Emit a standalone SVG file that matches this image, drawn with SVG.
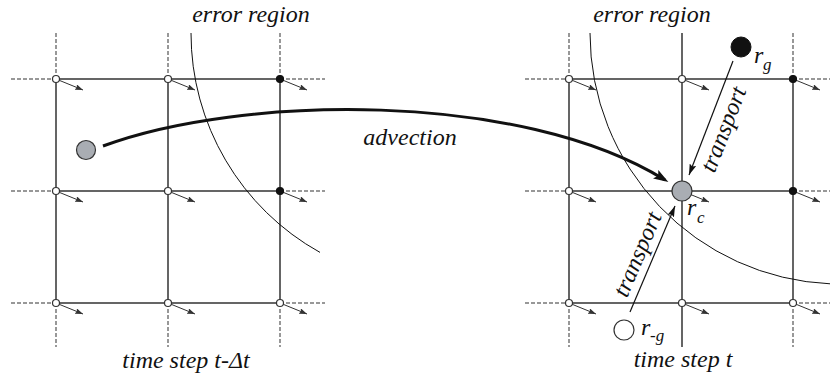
<svg xmlns="http://www.w3.org/2000/svg" xmlns:xlink="http://www.w3.org/1999/xlink" width="830" height="376" viewBox="0 0 830 376">
<style>
.g{stroke:#333;stroke-width:1.5;fill:none}
.d{stroke:#777;stroke-width:1.5;fill:none;stroke-dasharray:4 2}
.arc{stroke:#111;stroke-width:1;fill:none}
.sa{stroke:#333;stroke-width:1;fill:none}
.nw{fill:#fff;stroke:#333;stroke-width:1.2}
.nb{fill:#111;stroke:#111;stroke-width:1.2}
text{fill:#111;font-style:italic}
</style>
<defs>
<marker id="mS" viewBox="0 0 8 6" refX="8" refY="3" markerWidth="8" markerHeight="6" orient="auto" markerUnits="userSpaceOnUse"><path d="M0,0 L8,3 L0,6 L1.5,3 z" fill="#333"/></marker>
<marker id="mB" viewBox="0 0 15 10" refX="11" refY="5" markerWidth="15" markerHeight="10" orient="auto" markerUnits="userSpaceOnUse"><path d="M0,0 L15,5 L0,10 L3,5 z" fill="#111"/></marker>
<marker id="mT" viewBox="0 0 11 7" refX="11" refY="3.5" markerWidth="11" markerHeight="7" orient="auto" markerUnits="userSpaceOnUse"><path d="M0,0 L11,3.5 L0,7 L2,3.5 z" fill="#111"/></marker>
<line id="sarrow" class="sa" x1="0" y1="0" x2="27" y2="11" marker-end="url(#mS)"/>
</defs>

<g id="grid-left">
<path class="g" d="M56,79 H280 M56,191 H280 M56,303 H280 M56,79 V303 M168,79 V303 M280,79 V303"/>
<path class="d" d="M11,79 H56 M280,79 H325 M11,191 H56 M280,191 H325 M11,303 H56 M280,303 H325 M56,33 V79 M168,33 V79 M280,33 V79 M56,303 V347 M168,303 V347 M280,303 V347"/>
</g>
<g id="grid-right">
<path class="g" d="M569,79 H793 M569,191 H793 M569,303 H793 M569,79 V303 M682,33 V347 M793,79 V303"/>
<path class="d" d="M525,79 H569 M793,79 H830 M525,191 H569 M793,191 H830 M525,303 H569 M793,303 H830 M569,33 V79 M793,33 V79 M569,303 V347 M793,303 V347"/>
</g>

<g id="grid-vectors">
<use xlink:href="#sarrow" x="56" y="79"/><use xlink:href="#sarrow" x="168" y="79"/><use xlink:href="#sarrow" x="280" y="79"/>
<use xlink:href="#sarrow" x="56" y="191"/><use xlink:href="#sarrow" x="168" y="191"/><use xlink:href="#sarrow" x="280" y="191"/>
<use xlink:href="#sarrow" x="56" y="303"/><use xlink:href="#sarrow" x="168" y="303"/><use xlink:href="#sarrow" x="280" y="303"/>
<use xlink:href="#sarrow" x="569" y="79"/><use xlink:href="#sarrow" x="682" y="79"/><use xlink:href="#sarrow" x="793" y="79"/>
<use xlink:href="#sarrow" x="569" y="191"/><use xlink:href="#sarrow" x="682" y="191"/><use xlink:href="#sarrow" x="793" y="191"/>
<use xlink:href="#sarrow" x="569" y="303"/><use xlink:href="#sarrow" x="682" y="303"/><use xlink:href="#sarrow" x="793" y="303"/>
</g>

<g id="grid-nodes">
<circle class="nw" cx="56" cy="79" r="3.5"/><circle class="nw" cx="168" cy="79" r="3.5"/><circle class="nb" cx="280" cy="79" r="3.5"/>
<circle class="nw" cx="56" cy="191" r="3.5"/><circle class="nw" cx="168" cy="191" r="3.5"/><circle class="nb" cx="280" cy="191" r="3.5"/>
<circle class="nw" cx="56" cy="303" r="3.5"/><circle class="nw" cx="168" cy="303" r="3.5"/><circle class="nw" cx="280" cy="303" r="3.5"/>
<circle class="nw" cx="569" cy="79" r="3.5"/><circle class="nw" cx="682" cy="79" r="3.5"/><circle class="nb" cx="793" cy="79" r="3.5"/>
<circle class="nw" cx="569" cy="191" r="3.5"/><circle class="nb" cx="793" cy="191" r="3.5"/>
<circle class="nw" cx="569" cy="303" r="3.5"/><circle class="nw" cx="682" cy="303" r="3.5"/><circle class="nw" cx="793" cy="303" r="3.5"/>
</g>

<g id="error-regions">
<path class="arc" d="M191,33 A251,251 0 0,0 320,252.4"/>
<path class="arc" d="M590,33 A251,251 0 0,0 830,283.8"/>
</g>

<g id="connectors">
<path id="advection" d="M103,146 C240,95 520,90 665,180" fill="none" stroke="#111" stroke-width="3" marker-end="url(#mB)"/>
<line id="transport-g" x1="733" y1="61" x2="689" y2="175" stroke="#111" stroke-width="1.2" marker-end="url(#mT)"/>
<line id="transport-mg" x1="630" y1="312" x2="675" y2="206" stroke="#111" stroke-width="1.2" marker-end="url(#mT)"/>
</g>

<g id="particle-old"><circle cx="86" cy="150" r="9.5" fill="#a9adb3" stroke="#333" stroke-width="1.2"/></g>
<g id="particle-rc"><circle cx="682" cy="191" r="10" fill="#a9adb3" stroke="#333" stroke-width="1.2"/>
<text font-family="Liberation Serif, Times New Roman, DejaVu Serif, serif" font-size="24" x="687" y="215">r</text><text font-family="Liberation Serif, Times New Roman, DejaVu Serif, serif" font-size="17" x="697" y="223">c</text></g>
<g id="particle-rg"><circle cx="741" cy="47" r="10" fill="#111" stroke="#111" stroke-width="1"/>
<text font-family="Liberation Serif, Times New Roman, DejaVu Serif, serif" font-size="24" x="754" y="63">r</text><text font-family="Liberation Serif, Times New Roman, DejaVu Serif, serif" font-size="17" x="763" y="70">g</text></g>
<g id="particle-rmg"><circle cx="624" cy="330" r="10" fill="#fff" stroke="#333" stroke-width="1.2"/>
<text font-family="Liberation Serif, Times New Roman, DejaVu Serif, serif" font-size="24" x="641" y="335">r</text><text font-family="Liberation Serif, Times New Roman, DejaVu Serif, serif" font-size="17" x="650" y="341">-g</text></g>

<g id="labels" font-family="Liberation Serif, Times New Roman, DejaVu Serif, serif" font-size="24">
<text x="251" y="22" text-anchor="middle">error region</text>
<text x="652" y="22" text-anchor="middle">error region</text>
<text x="410" y="145" text-anchor="middle">advection</text>
<text x="186" y="368" text-anchor="middle">time step t-Δt</text>
<text x="683" y="367" text-anchor="middle">time step t</text>
<text text-anchor="middle" transform="translate(725,130) rotate(-69)" y="6">transport</text>
<text text-anchor="middle" transform="translate(639,255) rotate(-67)" y="6">transport</text>
</g>
</svg>
